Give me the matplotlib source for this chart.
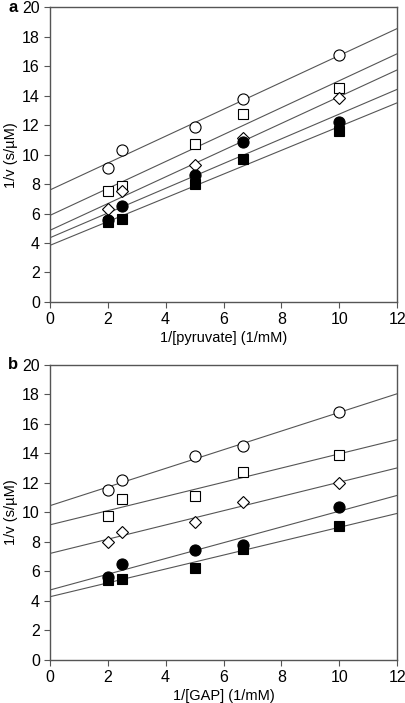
import numpy as np
import matplotlib
matplotlib.use('Agg')
import matplotlib.pyplot as plt

plt.rcParams['font.family'] = ['Liberation Sans', 'DejaVu Sans']

# x values (1/[substrate], 1/mM)
x = [2, 2.5, 5, 6.67, 10]

# panel a: 1/[pyruvate]
a_open_circle = [9.1, 10.35, 11.9, 13.8, 16.75]
a_open_square = [7.5, 7.85, 10.7, 12.75, 14.5]
a_open_diamond = [6.3, 7.5, 9.3, 11.1, 13.85]
a_filled_circle = [5.55, 6.5, 8.65, 10.85, 12.2]
a_filled_square = [5.4, 5.6, 8.0, 9.7, 11.6]

# panel b: 1/[GAP]
b_open_circle = [11.5, 12.2, 13.85, 14.5, 16.8]
b_open_square = [9.75, 10.9, 11.1, 12.75, 13.9]
b_open_diamond = [8.0, 8.7, 9.35, 10.7, 12.0]
b_filled_circle = [5.6, 6.5, 7.45, 7.8, 10.35]
b_filled_square = [5.4, 5.5, 6.25, 7.5, 9.1]

styles = [('o', 'white', 8), ('s', 'white', 6.5), ('D', 'white', 6.3),
          ('o', 'black', 8), ('s', 'black', 6.5)]

panels = [
    ('a', '1/[pyruvate] (1/mM)',
     [a_open_circle, a_open_square, a_open_diamond, a_filled_circle, a_filled_square]),
    ('b', '1/[GAP] (1/mM)',
     [b_open_circle, b_open_square, b_open_diamond, b_filled_circle, b_filled_square]),
]

fig = plt.figure(figsize=(4.06, 7.03), dpi=100)
rects = [[0.122, 0.5705, 0.857, 0.419], [0.122, 0.0612, 0.857, 0.4196]]
frame = '#555555'
xs = np.array(x)
xfit = np.linspace(0, 12, 50)

for (letter, xlabel, series), rect in zip(panels, rects):
    ax = fig.add_axes(rect)
    for ys, (m, fc, ms) in zip(series, styles):
        k, b = np.polyfit(xs, ys, 1)
        ax.plot(xfit, k * xfit + b, color='#555555', lw=0.8, zorder=1)
        ax.plot(xs, ys, linestyle='none', marker=m, mfc=fc, mec='black',
                mew=0.8, ms=ms, zorder=3)
    ax.set_xlim(0, 12)
    ax.set_ylim(0, 20)
    ax.set_xticks(range(0, 13, 2))
    ax.set_yticks(range(0, 21, 2))
    for sp in ax.spines.values():
        sp.set_color(frame)
        sp.set_linewidth(1.0)
    ax.tick_params(direction='out', length=4, width=0.8, color=frame,
                   labelsize=11.5, pad=3)
    ax.set_xlabel(xlabel, fontsize=10.5, labelpad=3)
    ax.set_ylabel('1/v (s/µM)', fontsize=10.5, labelpad=3)
    pos = ax.get_position()
    fig.text(0.02, pos.y1, letter, fontsize=12, fontweight='bold',
             ha='left', va='center')

fig.savefig('out.png', dpi=100)
